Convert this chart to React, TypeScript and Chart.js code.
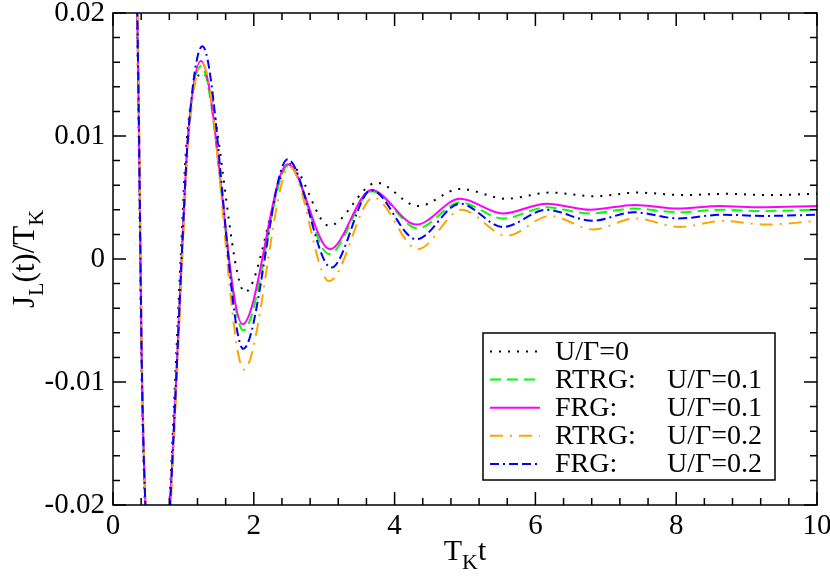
import { useEffect, useRef } from "react";
import { Chart, registerables } from "chart.js";

Chart.register(...registerables);

type Pt = [number, number];

// axis ticks
const xTicks = [0, 2, 4, 6, 8, 10];
const yTicks = [-0.02, -0.01, 0, 0.01, 0.02];

// J_L(t)/T_K vs T_K t (points outside the frame get clipped)
const u0: Pt[] = [
  [0, 0.1], [0.25, 0.045], [0.34, 0.02], [0.365, 0.01], [0.385, 0], [0.405, -0.009],
  [0.455, -0.02], [0.62, -0.035], [0.8, -0.02], [0.885, -0.0095], [0.96, 0],
  [1.045, 0.0095], [1.28, 0.0151], [1.875, -0.0027], [2.51, 0.0077], [3.07, 0.0027],
  [3.745, 0.0062], [4.33, 0.0043], [4.93, 0.0057], [5.59, 0.0049], [6.21, 0.0054],
  [6.85, 0.0051], [7.44, 0.0054], [8.1, 0.0052], [8.7, 0.0053], [9.3, 0.0052], [10, 0.0053],
];

const rtrg01: Pt[] = [
  [0, 0.1], [0.25, 0.045], [0.345, 0.02], [0.37, 0.01], [0.39, 0], [0.41, -0.009],
  [0.46, -0.02], [0.62, -0.035], [0.81, -0.02], [0.9, -0.0095], [0.975, 0],
  [1.06, 0.0095], [1.25, 0.0157], [1.85, -0.0058], [2.49, 0.0076], [3.07, 0.0004],
  [3.68, 0.0055], [4.33, 0.0025], [4.93, 0.0046], [5.54, 0.0033], [6.16, 0.0042],
  [6.78, 0.0037], [7.39, 0.0041], [8.03, 0.0038], [8.62, 0.004], [9.2, 0.0039], [10, 0.004],
];

const frg01: Pt[] = [
  [0, 0.1], [0.25, 0.045], [0.345, 0.02], [0.37, 0.01], [0.39, 0], [0.41, -0.009],
  [0.46, -0.02], [0.62, -0.035], [0.81, -0.02], [0.9, -0.0095], [0.975, 0],
  [1.06, 0.0095], [1.25, 0.0161], [1.84, -0.0053], [2.48, 0.0077], [3.08, 0.0008],
  [3.67, 0.0056], [4.31, 0.0028], [4.93, 0.0049], [5.54, 0.0037], [6.16, 0.0045],
  [6.78, 0.004], [7.41, 0.0044], [8.03, 0.0041], [8.62, 0.0043], [9.2, 0.0042], [10, 0.0043],
];

const rtrg02: Pt[] = [
  [0, 0.1], [0.25, 0.045], [0.35, 0.02], [0.375, 0.01], [0.395, 0], [0.415, -0.009],
  [0.465, -0.02], [0.63, -0.035], [0.82, -0.02], [0.91, -0.0095], [0.985, 0],
  [1.07, 0.0095], [1.27, 0.0159], [1.86, -0.009], [2.51, 0.0075], [3.07, -0.0018],
  [3.7, 0.005], [4.33, 0.0008], [4.95, 0.004], [5.59, 0.0019], [6.21, 0.0035],
  [6.82, 0.0024], [7.42, 0.0033], [8.05, 0.0026], [8.66, 0.0031], [9.27, 0.0028], [10, 0.0031],
];

const frg02: Pt[] = [
  [0, 0.1], [0.25, 0.045], [0.345, 0.02], [0.37, 0.01], [0.39, 0], [0.41, -0.009],
  [0.46, -0.02], [0.62, -0.035], [0.81, -0.02], [0.9, -0.0095], [0.975, 0],
  [1.06, 0.0095], [1.27, 0.0173], [1.85, -0.0073], [2.48, 0.0081], [3.1, -0.0007],
  [3.67, 0.0056], [4.31, 0.0016], [4.93, 0.0045], [5.54, 0.0026], [6.16, 0.004],
  [6.81, 0.0031], [7.39, 0.0038], [8.03, 0.0033], [8.65, 0.0036], [9.25, 0.0035], [10, 0.0036],
];

const series = [
  { method: "", param: "U/\u0393=0", data: u0, color: "#000000", dash: [2, 7] },
  { method: "RTRG:", param: "U/\u0393=0.1", data: rtrg01, color: "#00ff00", dash: [11, 6] },
  { method: "FRG:", param: "U/\u0393=0.1", data: frg01, color: "#ff00ff", dash: [] },
  { method: "RTRG:", param: "U/\u0393=0.2", data: rtrg02, color: "#ffa500", dash: [13, 7, 2, 7] },
  { method: "FRG:", param: "U/\u0393=0.2", data: frg02, color: "#0000ff", dash: [9, 4, 2, 4, 9, 4] },
];

// pick the first serif face the browser really has, else fall back
function pickSerif(): string {
  const c = document.createElement("canvas").getContext("2d");
  const names = ["Liberation Serif", "DejaVu Serif", "Tinos", "Noto Serif", "FreeSerif", "Times New Roman"];
  if (!c) return "serif";
  const probe = "mmmmmwwiiiilll0.02";
  c.font = "40px monospace";
  const base = c.measureText(probe).width;
  for (const n of names) {
    c.font = `40px "${n}", monospace`;
    if (Math.abs(c.measureText(probe).width - base) > 0.5) return `"${n}", serif`;
  }
  return "serif";
}

let SERIF = "serif";

// draw text with a lowered, smaller subscript run; parts = [text, isSub]
function richWidth(ctx: CanvasRenderingContext2D, parts: [string, boolean][], size: number) {
  let w = 0;
  for (const [t, sub] of parts) {
    ctx.font = `${sub ? Math.round(size * 0.72) : size}px ${SERIF}`;
    w += ctx.measureText(t).width;
  }
  return w;
}
function richText(ctx: CanvasRenderingContext2D, parts: [string, boolean][], x: number, y: number, size: number) {
  let cx = x;
  for (const [t, sub] of parts) {
    ctx.font = `${sub ? Math.round(size * 0.72) : size}px ${SERIF}`;
    ctx.fillText(t, cx, sub ? y + size * 0.3 : y);
    cx += ctx.measureText(t).width;
  }
}

const decor = {
  id: "decor",
  afterDatasetsDraw(chart: any) {
    const { ctx, chartArea: a, scales } = chart;
    const xs = scales.x;
    const ys = scales.y;
    ctx.save();
    ctx.strokeStyle = "#000";
    ctx.lineWidth = 1.5;
    ctx.setLineDash([]);
    ctx.beginPath();
    // inward ticks on all four sides
    for (let i = 0; i <= 25; i++) {
      const px = xs.getPixelForValue(i * 0.4);
      const len = i % 5 === 0 ? 13 : 7;
      ctx.moveTo(px, a.bottom); ctx.lineTo(px, a.bottom - len);
      ctx.moveTo(px, a.top); ctx.lineTo(px, a.top + len);
    }
    for (let i = 0; i <= 20; i++) {
      const py = ys.getPixelForValue(-0.02 + i * 0.002);
      const len = i % 5 === 0 ? 13 : 7;
      ctx.moveTo(a.left, py); ctx.lineTo(a.left + len, py);
      ctx.moveTo(a.right, py); ctx.lineTo(a.right - len, py);
    }
    ctx.stroke();
    ctx.strokeRect(a.left, a.top, a.right - a.left, a.bottom - a.top);

    // legend
    const lx = 483, ly = 333, lw = 292, lh = 147;
    ctx.fillStyle = "#fff";
    ctx.fillRect(lx, ly, lw, lh);
    ctx.strokeRect(lx, ly, lw, lh);
    ctx.textBaseline = "alphabetic";
    ctx.textAlign = "left";
    series.forEach((s, i) => {
      const base = 359.5 + i * 28.1;
      ctx.strokeStyle = s.color;
      ctx.lineWidth = 2;
      ctx.setLineDash(s.dash);
      ctx.beginPath();
      ctx.moveTo(490, base - 8);
      ctx.lineTo(540, base - 8);
      ctx.stroke();
      ctx.setLineDash([]);
      ctx.fillStyle = "#000";
      ctx.font = `28px ${SERIF}`;
      if (s.method) {
        ctx.fillText(s.method, 555, base);
        ctx.fillText(s.param, 667, base);
      } else {
        ctx.fillText(s.param, 555, base);
      }
    });

    // axis titles
    ctx.fillStyle = "#000";
    const xt: [string, boolean][] = [["T", false], ["K", true], ["t", false]];
    const xw = richWidth(ctx, xt, 30);
    richText(ctx, xt, (a.left + a.right) / 2 - xw / 2, 560, 30);

    const yt: [string, boolean][] = [["J", false], ["L", true], ["(t)/T", false], ["K", true]];
    const yw = richWidth(ctx, yt, 31);
    ctx.translate(34, (a.top + a.bottom) / 2);
    ctx.rotate(-Math.PI / 2);
    richText(ctx, yt, -yw / 2, 0, 31);
    ctx.restore();
  },
};

export default function App() {
  const canvasRef = useRef<HTMLCanvasElement>(null);

  useEffect(() => {
    document.body.style.margin = "0";
    if (!canvasRef.current) return;
    SERIF = pickSerif();
    const tickFont = { family: SERIF, size: 29, lineHeight: 1 };

    const chart = new Chart(canvasRef.current, {
      type: "line",
      data: {
        datasets: series.map((s, i) => ({
          label: s.param,
          data: s.data.map(([x, y]) => ({ x, y })),
          borderColor: s.color,
          borderWidth: 2,
          borderDash: s.dash,
          pointRadius: 0,
          fill: false,
          cubicInterpolationMode: "monotone" as const,
          clip: 0,
          order: series.length - i,
        })),
      },
      options: {
        animation: false,
        responsive: false,
        layout: { padding: { left: 0, right: 13, top: 13, bottom: 0 } },
        plugins: { legend: { display: false }, tooltip: { enabled: false } },
        scales: {
          x: {
            type: "linear",
            min: 0,
            max: 10,
            grid: { display: false, drawTicks: false },
            border: { display: false },
            afterBuildTicks: (axis: any) => {
              axis.ticks = xTicks.map((value) => ({ value }));
            },
            afterFit: (axis: any) => {
              axis.height = 72;
              axis.paddingLeft = 0;
              axis.paddingRight = 0;
            },
            ticks: {
              font: tickFont,
              color: "#000",
              padding: 7,
              maxRotation: 0,
              autoSkip: false,
              callback: (v: any) => String(v),
            },
          },
          y: {
            type: "linear",
            min: -0.02,
            max: 0.02,
            grid: { display: false, drawTicks: false },
            border: { display: false },
            afterBuildTicks: (axis: any) => {
              axis.ticks = yTicks.map((value) => ({ value }));
            },
            afterFit: (axis: any) => {
              axis.width = 113;
              axis.paddingTop = 0;
              axis.paddingBottom = 0;
            },
            ticks: {
              font: tickFont,
              color: "#000",
              padding: 8,
              autoSkip: false,
              callback: (v: any) => (Number(v) === 0 ? "0" : Number(v).toFixed(2)),
            },
          },
        },
      },
      plugins: [decor],
    });

    return () => chart.destroy();
  }, []);

  return (
    <div style={{ width: 830, height: 577, background: "#fff" }}>
      <canvas ref={canvasRef} width={830} height={577} />
    </div>
  );
}
